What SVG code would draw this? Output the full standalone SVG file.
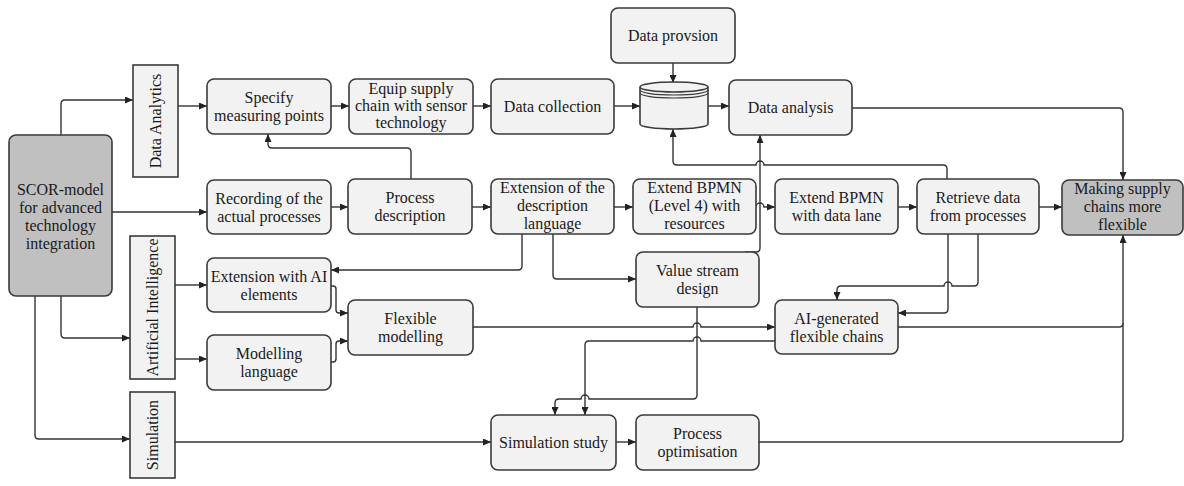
<svg xmlns="http://www.w3.org/2000/svg" width="1184" height="486" viewBox="0 0 1184 486">
<style>
.b{fill:#f2f2f2;stroke:#3a3a3a;stroke-width:1.6}
.g{fill:#c0c0c0;stroke:#3a3a3a;stroke-width:1.6}
.l{fill:#f2f2f2;stroke:#3a3a3a;stroke-width:1.6}
text{font-family:"Liberation Serif","Times New Roman",serif;font-size:16px;fill:#1a1a1a;text-anchor:middle}
.c path{fill:none;stroke:#333;stroke-width:1.4}
</style>
<defs>
<marker id="a" markerUnits="userSpaceOnUse" markerWidth="8" markerHeight="7" refX="8" refY="3.5" orient="auto">
<path d="M0,0 L8,3.5 L0,7 z" fill="#222"/>
</marker>
</defs>
<rect width="1184" height="486" fill="#fff"/>
<g class="c">
<path d="M61,135 V104 Q61,100 65,100 H133" marker-end="url(#a)"/>
<path d="M178,106 H207" marker-end="url(#a)"/>
<path d="M112,212 H207" marker-end="url(#a)"/>
<path d="M411,179 V152 Q411,148 407,148 H272 Q268,148 268,144 V134" marker-end="url(#a)"/>
<path d="M331,106 H349" marker-end="url(#a)"/>
<path d="M473,106 H491" marker-end="url(#a)"/>
<path d="M614,106 H640" marker-end="url(#a)"/>
<path d="M708,106 H729" marker-end="url(#a)"/>
<path d="M673,63 V83" marker-end="url(#a)"/>
<path d="M852,108 H1119 Q1123,108 1123,112 V180" marker-end="url(#a)"/>
<path d="M331,207 H348" marker-end="url(#a)"/>
<path d="M472,207 H491" marker-end="url(#a)"/>
<path d="M614,207 H633" marker-end="url(#a)"/>
<path d="M756,207 A4,4 0 0 1 764,207 H775" marker-end="url(#a)"/>
<path d="M947,179 V169 Q947,165 943,165 H764 A4,4 0 0 0 756,165 H677 Q673,165 673,161 V129" marker-end="url(#a)"/>
<path d="M898,207 H917" marker-end="url(#a)"/>
<path d="M1039,207 H1062" marker-end="url(#a)"/>
<path d="M522,234 V266 Q522,270 518,270 H331" marker-end="url(#a)"/>
<path d="M553,234 V275 Q553,279 557,279 H636" marker-end="url(#a)"/>
<path d="M331,286 H333 Q336,286 336,289 V310 Q336,313 339,313 H348" marker-end="url(#a)"/>
<path d="M331,362 H333 Q336,362 336,359 V344 Q336,341 339,341 H348" marker-end="url(#a)"/>
<path d="M61,296 V334 Q61,338 65,338 H130" marker-end="url(#a)"/>
<path d="M35,296 V435 Q35,439 39,439 H130" marker-end="url(#a)"/>
<path d="M175,285 H207" marker-end="url(#a)"/>
<path d="M175,359 H207" marker-end="url(#a)"/>
<path d="M175,442 H491" marker-end="url(#a)"/>
<path d="M473,327 H693 A4,4 0 0 1 701,327 H775" marker-end="url(#a)"/>
<path d="M697,307 V395 Q697,399 693,399 H589 A4,4 0 0 0 581,399 H559 Q555,399 555,403 V415" marker-end="url(#a)"/>
<path d="M775,341 H701 A4,4 0 0 0 693,341 H589 Q585,341 585,345 V415" marker-end="url(#a)"/>
<path d="M616,442 H636" marker-end="url(#a)"/>
<path d="M759,442 H1119 Q1123,442 1123,438 V235" marker-end="url(#a)"/>
<path d="M898,327 H1119 Q1123,327 1123,323"/>
<path d="M948,234 V309 Q948,313 944,313 H898" marker-end="url(#a)"/>
<path d="M978,234 V282 Q978,286 974,286 H952 A4,4 0 0 0 944,286 H841 Q837,286 837,290 V300" marker-end="url(#a)"/>
<path d="M745,252 H756 Q760,252 760,248 V135" marker-end="url(#a)"/>
</g>
<g id="scor"><rect class="g" x="9" y="135" width="103" height="161" rx="7"/>
<text x="60.5" y="195">SCOR-model<tspan x="60.5" y="213">for advanced</tspan><tspan x="60.5" y="231">technology</tspan><tspan x="60.5" y="249">integration</tspan></text></g>
<g id="data-analytics"><rect class="l" x="133" y="65" width="45" height="112"/>
<text transform="rotate(-90 155.5 121)" x="155.5" y="126.5">Data Analytics</text></g>
<g id="artificial-intelligence"><rect class="l" x="130" y="236" width="45" height="143"/>
<text transform="rotate(-90 152.5 307.5)" x="152.5" y="313" font-size="15">Artificial Intelligence</text></g>
<g id="simulation"><rect class="l" x="130" y="392" width="45" height="86"/>
<text transform="rotate(-90 152.5 435)" x="152.5" y="440.5">Simulation</text></g>
<g id="specify"><rect class="b" x="207" y="79" width="124" height="55" rx="7"/>
<text x="269" y="103">Specify<tspan x="269" y="121">measuring points</tspan></text></g>
<g id="equip"><rect class="b" x="349" y="79" width="124" height="55" rx="7"/>
<text x="411" y="93.5">Equip supply<tspan x="411" y="110.5">chain with sensor</tspan><tspan x="411" y="127.5">technology</tspan></text></g>
<g id="data-collection"><rect class="b" x="491" y="79" width="123" height="55" rx="7"/>
<text x="552.5" y="112">Data collection</text></g>
<g id="data-provision"><rect class="b" x="611" y="8" width="124" height="55" rx="7"/>
<text x="673" y="41">Data provsion</text></g>
<g id="database">
<path class="b" d="M640,87 V124 A34,5 0 0 0 708,124 V87"/>
<ellipse class="b" cx="674" cy="87" rx="34" ry="5"/>
<path d="M640,90 A34,5 0 0 0 708,90 M640,93 A34,5 0 0 0 708,93" fill="none" stroke="#3a3a3a" stroke-width="1.2"/>
</g>
<g id="data-analysis"><rect class="b" x="729" y="80" width="123" height="55" rx="7"/>
<text x="790.5" y="113">Data analysis</text></g>
<g id="recording"><rect class="b" x="207" y="180" width="124" height="54" rx="7"/>
<text x="269" y="203.5">Recording of the<tspan x="269" y="221.5">actual processes</tspan></text></g>
<g id="process-description"><rect class="b" x="348" y="179" width="124" height="55" rx="7"/>
<text x="410" y="203">Process<tspan x="410" y="221">description</tspan></text></g>
<g id="extension-description"><rect class="b" x="491" y="179" width="123" height="55" rx="7"/>
<text x="552.5" y="193">Extension of the<tspan x="552.5" y="211">description</tspan><tspan x="552.5" y="229">language</tspan></text></g>
<g id="bpmn-level4"><rect class="b" x="633" y="179" width="123" height="55" rx="7"/>
<text x="694.5" y="193">Extend BPMN<tspan x="694.5" y="211">(Level 4) with</tspan><tspan x="694.5" y="229">resources</tspan></text></g>
<g id="bpmn-datalane"><rect class="b" x="775" y="179" width="123" height="55" rx="7"/>
<text x="836.5" y="203">Extend BPMN<tspan x="836.5" y="221">with data lane</tspan></text></g>
<g id="retrieve"><rect class="b" x="917" y="179" width="122" height="55" rx="7"/>
<text x="978" y="203">Retrieve data<tspan x="978" y="221">from processes</tspan></text></g>
<g id="making-flexible"><rect class="g" x="1062" y="180" width="121" height="55" rx="7"/>
<text x="1122.5" y="194">Making supply<tspan x="1122.5" y="212">chains more</tspan><tspan x="1122.5" y="230">flexible</tspan></text></g>
<g id="extension-ai"><rect class="b" x="207" y="258" width="124" height="54" rx="7"/>
<text x="269" y="281.5">Extension with AI<tspan x="269" y="299.5">elements</tspan></text></g>
<g id="modelling-language"><rect class="b" x="207" y="335" width="124" height="55" rx="7"/>
<text x="269" y="359">Modelling<tspan x="269" y="377">language</tspan></text></g>
<g id="flexible-modelling"><rect class="b" x="348" y="300" width="125" height="55" rx="7"/>
<text x="410.5" y="324">Flexible<tspan x="410.5" y="342">modelling</tspan></text></g>
<g id="value-stream"><rect class="b" x="636" y="252" width="123" height="55" rx="7"/>
<text x="697.5" y="276">Value stream<tspan x="697.5" y="294">design</tspan></text></g>
<g id="ai-generated"><rect class="b" x="775" y="300" width="123" height="54" rx="7"/>
<text x="836.5" y="323.5">AI-generated<tspan x="836.5" y="341.5">flexible chains</tspan></text></g>
<g id="simulation-study"><rect class="b" x="491" y="415" width="125" height="55" rx="7"/>
<text x="553.5" y="448">Simulation study</text></g>
<g id="process-optimisation"><rect class="b" x="636" y="415" width="123" height="55" rx="7"/>
<text x="697.5" y="439">Process<tspan x="697.5" y="457">optimisation</tspan></text></g>
</svg>
